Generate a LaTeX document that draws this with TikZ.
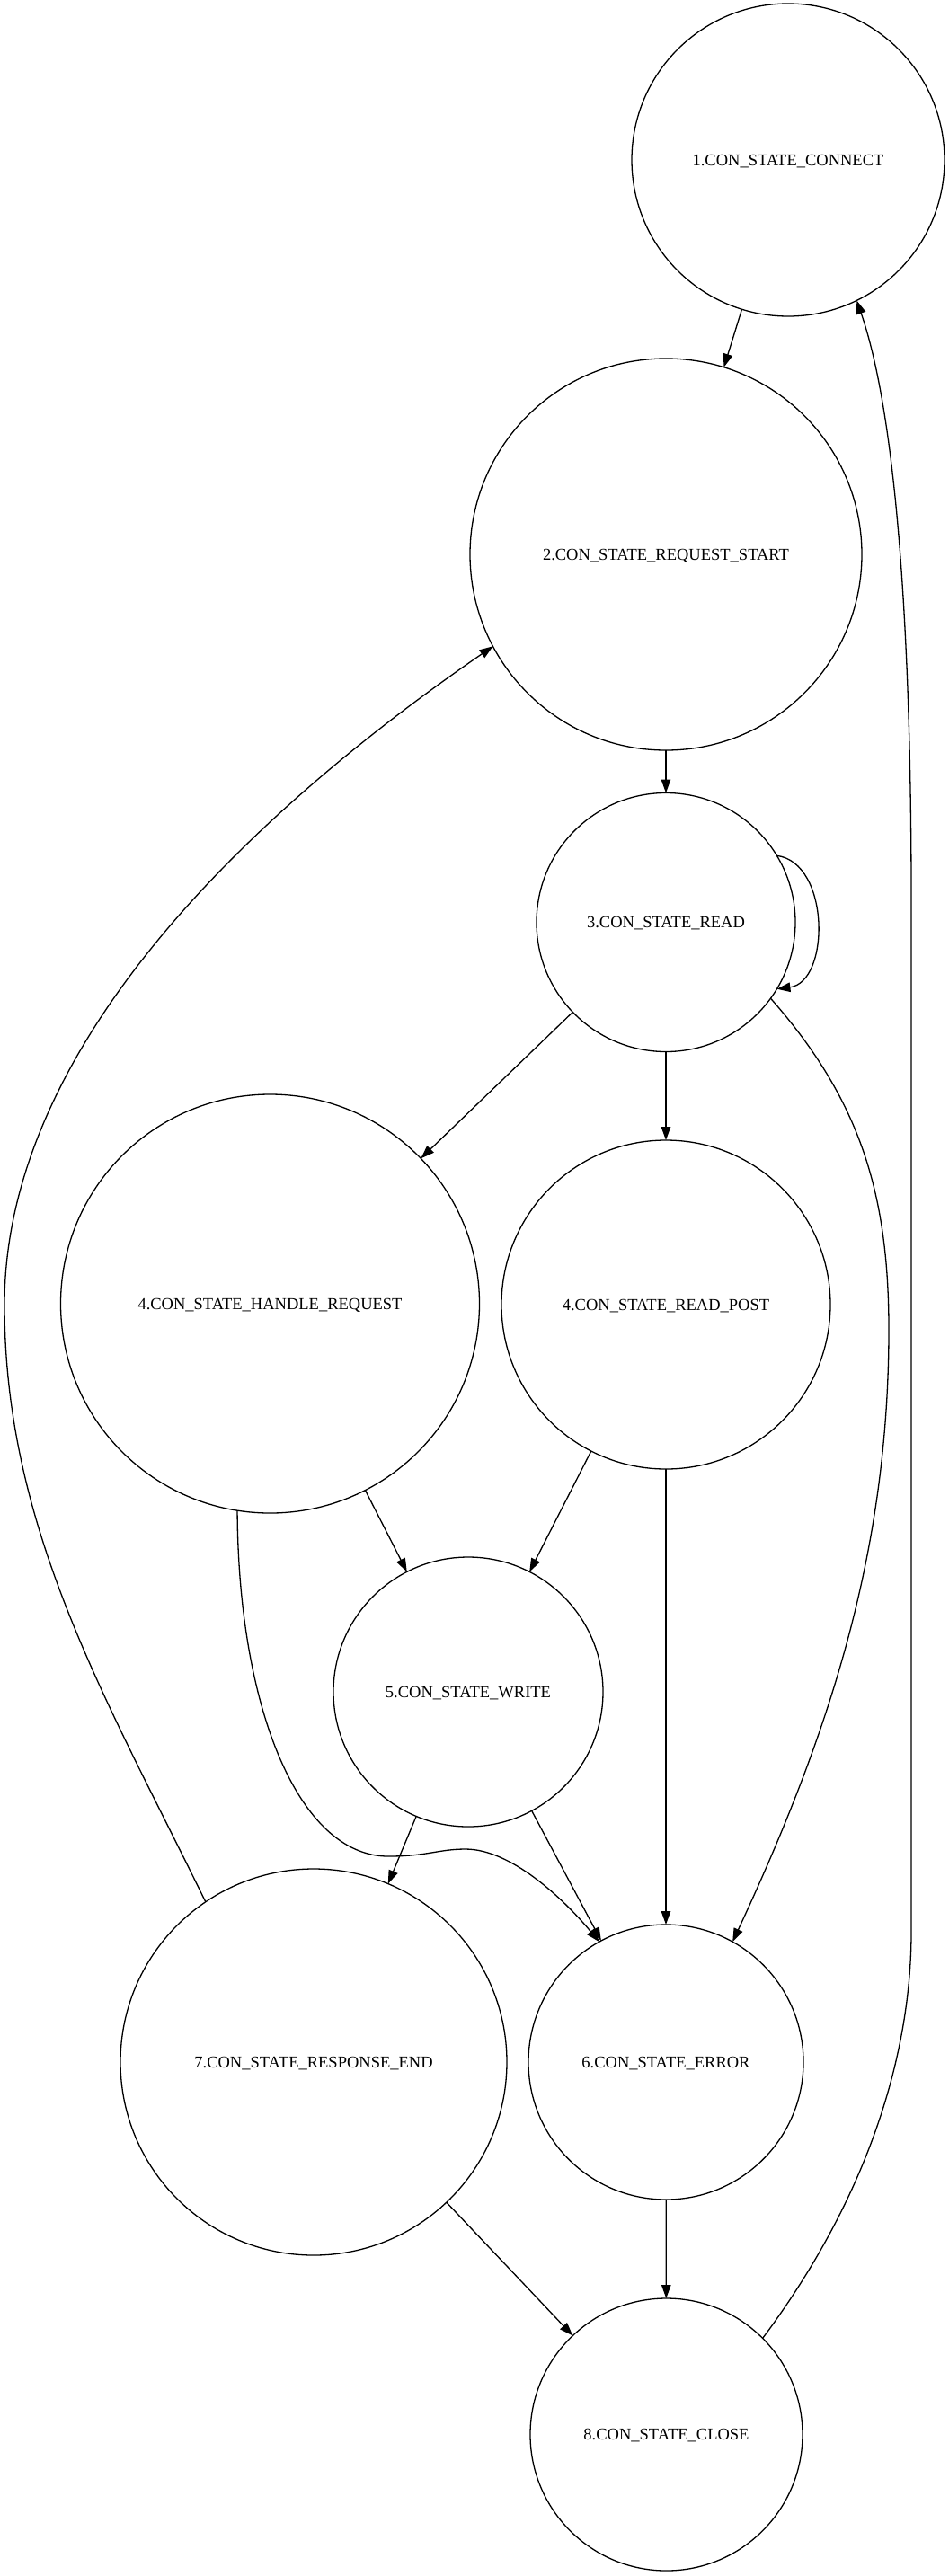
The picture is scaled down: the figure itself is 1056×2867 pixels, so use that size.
\documentclass[tikz,border=0pt]{standalone}
\usepackage{fontspec}
\setmainfont{Liberation Serif}
\usetikzlibrary{arrows.meta}
\begin{document}
\begin{tikzpicture}[x=1pt,y=-1pt,
  st/.style={draw, circle, line width=1.3pt, inner sep=0pt, outer sep=0pt,
    minimum size=#1, text depth=0pt, font=\fontsize{18.5}{22}\selectfont},
  edge/.style={line width=1.3pt, -{Triangle[length=15pt,width=10.5pt]}}]
\useasboundingbox (0,0) rectangle (1056,2867);

\node[st=348pt] (n1) at (877,178) {1.CON\_STATE\_CONNECT};
\node[st=436pt] (n2) at (741,617) {2.CON\_STATE\_REQUEST\_START};
\node[st=288pt] (n3) at (741,1026.5) {3.CON\_STATE\_READ};
\node[st=466pt] (n4h) at (300.5,1451) {4.CON\_STATE\_HANDLE\_REQUEST};
\node[st=366pt] (n4p) at (741,1452) {4.CON\_STATE\_READ\_POST};
\node[st=300pt] (n5) at (521,1883) {5.CON\_STATE\_WRITE};
\node[st=430pt] (n7) at (349,2295) {7.CON\_STATE\_RESPONSE\_END};
\node[st=306pt] (n6) at (741,2295) {6.CON\_STATE\_ERROR};
\node[st=303pt] (n8) at (741.5,2709.5) {8.CON\_STATE\_CLOSE};

\draw[edge] (n1) -- (n2);
\draw[edge] (n2) -- (n3);
\draw[edge] (n3.31) .. controls (924,960) and (924,1093) .. (n3.-31);
\draw[edge] (n3) -- (n4h);
\draw[edge] (n3) -- (n4p);
\draw[edge] (n3.-36.3) .. controls (958,1225) and (989,1330) .. (989,1480)
  .. controls (989,1730) and (921,1934) .. (n6.61.9);
\draw[edge] (n4h) -- (n5);
\draw[edge] (n4p) -- (n5);
\draw[edge] (n4p) -- (n6);
\draw[edge] (n4h.261.3) .. controls (265,1900) and (332,2066) .. (432,2066)
  .. controls (475,2066) and (488,2058) .. (518,2058)
  .. controls (568,2058) and (626,2112) .. (n6.119.7);
\draw[edge] (n5) -- (n7);
\draw[edge] (n5) -- (n6);
\draw[edge] (n7.124.3) .. controls (119,1892) and (5,1702) .. (5,1452)
  .. controls (5,1152) and (302,889) .. (n2.208.8);
\draw[edge] (n7) -- (n8);
\draw[edge] (n6) -- (n8);
\draw[edge] (n8.45.5) .. controls (970,2440) and (1014,2280) .. (1014,2150)
  -- (1014,1000) .. controls (1014,750) and (1002,475) .. (n1.-64.8);
\end{tikzpicture}
\end{document}
